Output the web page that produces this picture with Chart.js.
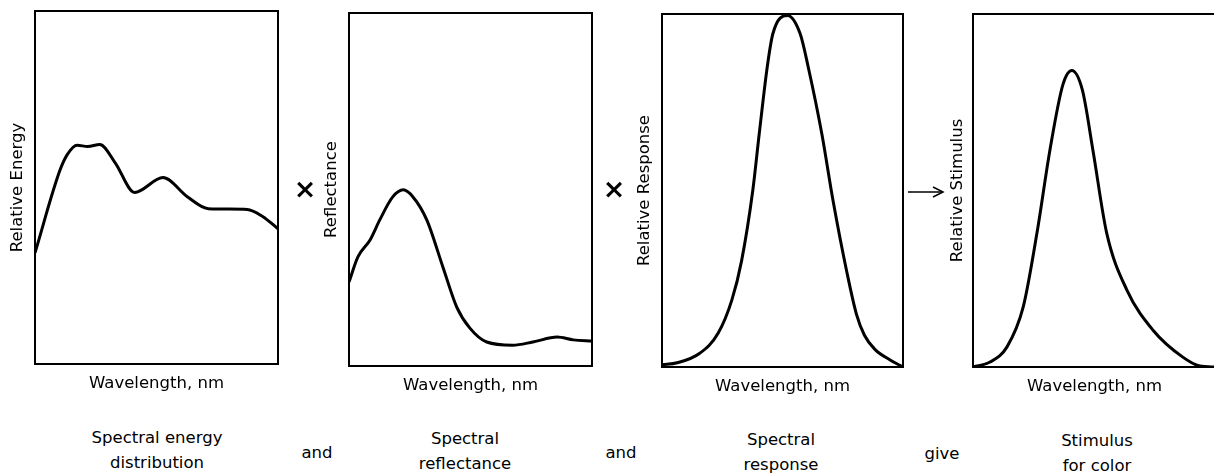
<!DOCTYPE html>
<html>
<head>
<meta charset="utf-8">
<script src="https://cdn.jsdelivr.net/npm/chart.js@4.4.1/dist/chart.umd.min.js"></script>
<style>
  html, body { margin: 0; padding: 0; background: #fff; overflow: hidden; }
  body { width: 1214px; height: 474px; position: relative; font-family: "DejaVu Sans", sans-serif; color: #000; }
  canvas { position: absolute; top: 0; }
  .txt { position: absolute; font-size: 16.5px; line-height: 25px; text-align: center; white-space: nowrap; transform: translate(-50%, -50%); }
  .times { position: absolute; font-size: 27px; font-weight: bold; transform: translate(-50%, -50%); line-height: 1; }
</style>
</head>
<body>
<canvas id="c1"></canvas>
<canvas id="c2"></canvas>
<canvas id="c3"></canvas>
<canvas id="c4"></canvas>

<div class="times" style="left:305px; top:188px;">×</div>
<div class="times" style="left:614px; top:188px;">×</div>
<svg style="position:absolute; left:907px; top:185px;" width="38" height="14">
  <line x1="1" y1="7" x2="35" y2="7" stroke="#000" stroke-width="1.5"/>
  <path d="M26 2 L36 7 L26 12" fill="none" stroke="#000" stroke-width="1.5"/>
</svg>

<div class="txt" style="left:157px; top:450px;">Spectral energy<br>distribution</div>
<div class="txt" style="left:317px; top:452px;">and</div>
<div class="txt" style="left:465px; top:451px;">Spectral<br>reflectance</div>
<div class="txt" style="left:621px; top:452px;">and</div>
<div class="txt" style="left:781px; top:452px;">Spectral<br>response</div>
<div class="txt" style="left:942px; top:453px;">give</div>
<div class="txt" style="left:1097px; top:453px;">Stimulus<br>for color</div>

<script>
// wavelengths (nm) and relative values (0-100)
var energyWl  = [400, 431, 440, 452, 465, 480, 499, 523, 558, 588, 614, 662, 681, 700];
var energyVal = [31.5, 55, 59.4, 62, 61.6, 62.2, 57, 48.6, 52.8, 47.4, 44, 43.8, 41.8, 38.3];

var reflWl  = [400, 411, 426, 438, 454, 467, 479, 496, 516, 533, 549, 570, 602, 627, 657, 677, 700];
var reflVal = [23.8, 30.9, 35.7, 41.4, 47.9, 49.9, 47.9, 41.4, 28, 16.7, 10.8, 6.8, 5.9, 6.8, 8.2, 7.4, 7.1];

var respWl  = [400, 419, 447, 470, 487, 499, 513, 521, 531, 538, 556, 572, 582, 599, 613, 630, 642, 652, 665, 684, 700];
var respVal = [0.6, 1.2, 3.9, 9.6, 19, 30, 50, 66, 85, 94.4, 99.6, 94.4, 85, 66, 47, 27, 15, 9, 5, 2, 0];

var stimWl  = [400, 421, 442, 462, 479, 495, 511, 522, 535, 548, 565, 590, 622, 659, 680, 700];
var stimVal = [0, 1.4, 5.7, 17, 38, 61.5, 80, 84, 78.5, 61.5, 38, 21.8, 10.5, 2.8, 0.3, 0];

var xTitle = 'Wavelength, nm';

var boxPlugin = {
  id: 'box',
  afterDraw: function(chart) {
    var a = chart.chartArea, ctx = chart.ctx;
    ctx.save();
    ctx.strokeStyle = '#000';
    ctx.lineWidth = 2;
    ctx.strokeRect(a.left, a.top, a.right - a.left, a.bottom - a.top);
    ctx.restore();
  }
};

function makePanel(id, box, yTitle, titleX, wl, vals) {
  var yAxisW = 35, xAxisH = 30;
  var fsize = 16.5;
  var canvas = document.getElementById(id);
  var left = box.l - yAxisW;
  canvas.width = box.r - left + 2;
  canvas.height = box.b + xAxisH;
  canvas.style.left = left + 'px';

  var pts = wl.map(function(x, i) { return {x: x, y: vals[i]}; });

  return new Chart(canvas.getContext('2d'), {
    type: 'line',
    data: {
      datasets: [{
        data: pts,
        borderColor: '#000',
        borderWidth: 3,
        pointRadius: 0,
        fill: false,
        cubicInterpolationMode: 'monotone'
      }]
    },
    options: {
      responsive: false,
      animation: false,
      layout: { padding: { top: box.t, right: 2, bottom: 0, left: 0 } },
      plugins: { legend: { display: false }, tooltip: { enabled: false } },
      scales: {
        x: {
          type: 'linear', min: 400, max: 700,
          grid: { display: false }, border: { display: false },
          ticks: { display: false },
          title: { display: true, text: xTitle, color: '#000',
                   font: { family: 'DejaVu Sans', size: fsize }, padding: { top: 0, bottom: 0 } },
          afterFit: function(s) { s.height = xAxisH; }
        },
        y: {
          min: 0, max: 100,
          grid: { display: false }, border: { display: false },
          ticks: { display: false },
          title: { display: true, text: yTitle, color: '#000',
                   font: { family: 'DejaVu Sans', size: fsize },
                   padding: { top: titleX - box.l + yAxisW - fsize * 0.6, bottom: 0 } },
          afterFit: function(s) { s.width = yAxisW; }
        }
      }
    },
    plugins: [boxPlugin]
  });
}

makePanel('c1', {l: 35, r: 278, t: 11, b: 364}, 'Relative Energy', 18, energyWl, energyVal);
makePanel('c2', {l: 349, r: 592, t: 13, b: 366}, 'Reflectance', 332, reflWl, reflVal);
makePanel('c3', {l: 662, r: 903, t: 14, b: 367}, 'Relative Response', 645, respWl, respVal);
makePanel('c4', {l: 973, r: 1216, t: 14, b: 367}, 'Relative Stimulus', 958, stimWl, stimVal);
</script>
</body>
</html>
